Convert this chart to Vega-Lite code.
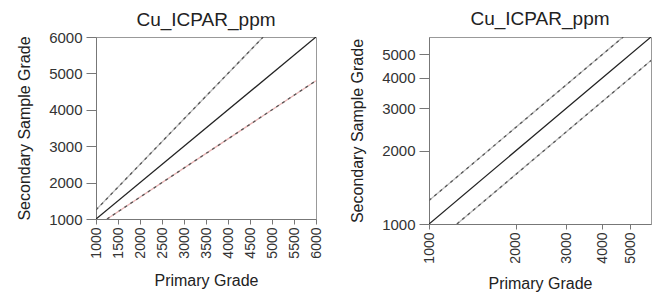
{
  "$schema": "https://vega.github.io/schema/vega-lite/v6.json",
  "padding": {"left": 16, "top": 9, "right": 0, "bottom": 0},
  "autosize": {"type": "pad"},
  "config": {
    "font": "Liberation Sans",
    "view": {"stroke": "#999", "strokeWidth": 1},
    "axis": {"grid": false, "labelFontSize": 15, "labelColor": "#333", "titleFontSize": 16, "titleFontWeight": "normal", "titleColor": "#222", "domainColor": "#777", "tickColor": "#777", "tickSize": 10, "labelPadding": 4, "labelOverlap": false},
    "title": {"fontSize": 19, "fontWeight": "normal", "color": "#222"},
    "concat": {"spacing": 25}
  },
  "datasets": {
    "lines": [
      {"series": "center", "x": 1000, "y": 1000},
      {"series": "center", "x": 6000, "y": 6000},
      {"series": "upper", "x": 1000, "y": 1250},
      {"series": "upper", "x": 4800, "y": 6000},
      {"series": "lower", "x": 1250, "y": 1000},
      {"series": "lower", "x": 6000, "y": 4800}
    ]
  },
  "resolve": {"scale": {"x": "independent", "y": "independent", "color": "independent"}},
  "hconcat": [
    {
      "title": {"text": "Cu_ICPAR_ppm", "offset": 0},
      "width": 220,
      "height": 182,
      "data": {"name": "lines"},
      "encoding": {
        "x": {"field": "x", "type": "quantitative", "scale": {"domain": [1000, 6000], "nice": false},
          "axis": {"values": [1000, 1500, 2000, 2500, 3000, 3500, 4000, 4500, 5000, 5500, 6000], "tickCount": 30, "format": "d", "labelAngle": -90, "labelFontSize": 14, "labelOverlap": false, "labelFlush": false, "tickSize": 5, "labelPadding": 3, "title": "Primary Grade", "titlePadding": 14}},
        "y": {"field": "y", "type": "quantitative", "scale": {"domain": [1000, 6000], "nice": false},
          "axis": {"values": [1000, 2000, 3000, 4000, 5000, 6000], "tickCount": 30, "format": "d", "labelOverlap": false, "labelFlush": false, "title": "Secondary Sample Grade", "titlePadding": 16}}
      },
      "layer": [
        {
          "mark": {"type": "line", "strokeWidth": 1.3, "clip": true},
          "encoding": {
            "color": {"field": "series", "type": "nominal", "scale": {"domain": ["center", "upper", "lower"], "range": ["#222222", "#bbbbbb", "#e8b4b4"]}, "legend": null}
          }
        },
        {
          "transform": [{"filter": "datum.series != 'center'"}],
          "mark": {"type": "line", "strokeWidth": 1.3, "strokeDash": [3, 4], "color": "#555555", "clip": true},
          "encoding": {
            "detail": {"field": "series"}
          }
        }
      ]
    },
    {
      "title": {"text": "Cu_ICPAR_ppm", "offset": 8},
      "width": 222,
      "height": 187,
      "data": {"name": "lines"},
      "encoding": {
        "x": {"field": "x", "type": "quantitative", "scale": {"type": "log", "domain": [1000, 5900], "nice": false},
          "axis": {"values": [1000, 2000, 3000, 4000, 5000], "tickCount": 30, "format": "d", "labelAngle": -90, "labelFontSize": 14, "labelOverlap": false, "labelFlush": false, "tickSize": 5, "labelPadding": 3, "title": "Primary Grade", "titlePadding": 12}},
        "y": {"field": "y", "type": "quantitative", "scale": {"type": "log", "domain": [1000, 5900], "nice": false},
          "axis": {"values": [1000, 2000, 3000, 4000, 5000], "tickCount": 30, "format": "d", "labelOverlap": false, "labelFlush": false, "title": "Secondary Sample Grade", "titlePadding": 16}}
      },
      "layer": [
        {
          "mark": {"type": "line", "strokeWidth": 1.3, "clip": true},
          "encoding": {
            "color": {"field": "series", "type": "nominal", "scale": {"domain": ["center", "upper", "lower"], "range": ["#222222", "#bbbbbb", "#bbbbbb"]}, "legend": null}
          }
        },
        {
          "transform": [{"filter": "datum.series != 'center'"}],
          "mark": {"type": "line", "strokeWidth": 1.3, "strokeDash": [3, 4], "color": "#555555", "clip": true},
          "encoding": {
            "detail": {"field": "series"}
          }
        }
      ]
    }
  ]
}
